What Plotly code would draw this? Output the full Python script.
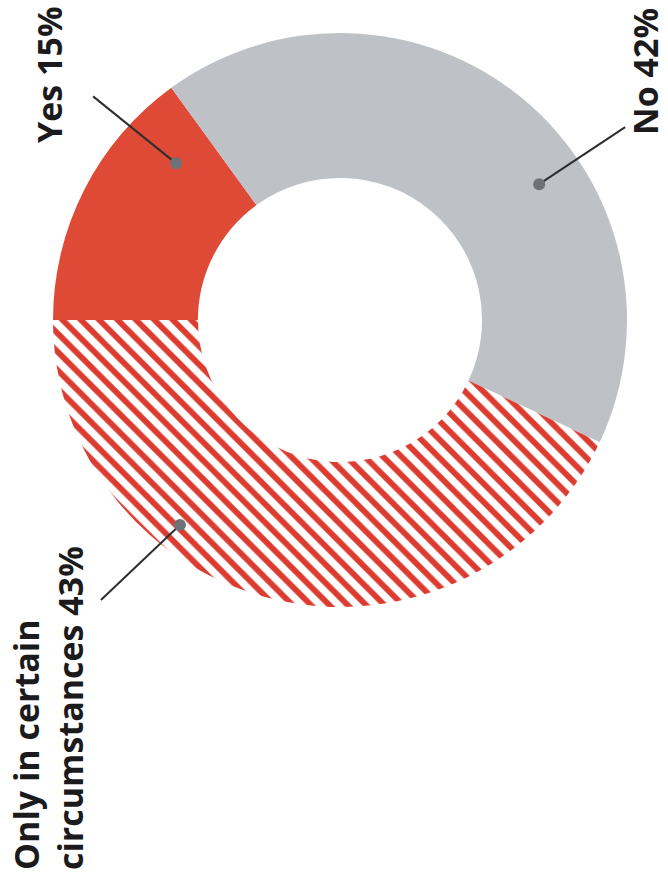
import math
import plotly.graph_objects as go

# Survey answers and their shares (%)
answers = ["Yes", "No", "Only in certain<br>circumstances"]
shares = [15, 42, 43]

# Slice styling
slice_colors = ["#df4a37", "#bec1c6", "#ffffff"]
slice_patterns = ["", "", "\\"]
hatch_color = "#dc3b30"

# Canvas and pie geometry (pixels)
W, H = 668, 890
CX, CY, R = 340, 320, 287
HOLE = 0.495

# Callouts: dot placed by clock angle (deg, clockwise from 12) and radius fraction,
# leader line end as a pixel offset from the dot, label box centre in pixels
callout_dot = [(313.7, 0.79), (55.7, 0.84), (218.0, 0.906)]
callout_end = [(-83, -67), (86, -57), (-79, 75)]
callout_label = [(49, 75), (645, 72), (48, 708)]


def px(x, y):
    """Pixel position -> paper coordinates."""
    return x / W, 1 - y / H


fig = go.Figure()

fig.add_trace(go.Pie(
    labels=answers,
    values=shares,
    sort=False,
    direction="clockwise",
    rotation=-90,
    hole=HOLE,
    textinfo="none",
    hoverinfo="label+percent",
    domain=dict(x=[(CX - R) / W, (CX + R) / W],
                y=[1 - (CY + R) / H, 1 - (CY - R) / H]),
    marker=dict(
        colors=slice_colors,
        line=dict(width=0),
        pattern=dict(shape=slice_patterns, fgcolor=hatch_color, fgopacity=1,
                     size=13, solidity=0.45, fillmode="overlay"),
    ),
))

shapes = []
annotations = []
for name, share, (ang, rf), (ex, ey), (lx, ly) in zip(
        answers, shares, callout_dot, callout_end, callout_label):
    a = math.radians(ang)
    dx = CX + rf * R * math.sin(a)
    dy = CY - rf * R * math.cos(a)
    x0, y0 = px(dx, dy)
    x1, y1 = px(dx + ex, dy + ey)
    shapes.append(dict(type="line", xref="paper", yref="paper",
                       x0=x0, y0=y0, x1=x1, y1=y1, layer="above",
                       line=dict(color="#2e2e30", width=2)))
    shapes.append(dict(type="circle", xref="paper", yref="paper",
                       xsizemode="pixel", ysizemode="pixel",
                       xanchor=x0, yanchor=y0, x0=-6, x1=6, y0=-6, y1=6,
                       layer="above", fillcolor="#6e7177",
                       line=dict(width=0)))
    tx, ty = px(lx, ly)
    annotations.append(dict(
        text=f"{name} {share}%", x=tx, y=ty, xref="paper", yref="paper",
        xanchor="center", yanchor="middle", align="left", textangle=-90,
        showarrow=False, borderpad=0,
        font=dict(family="Open Sans", size=34, color="#1b1b1d", weight="bold"),
    ))

fig.update_layout(
    width=W, height=H,
    margin=dict(l=0, r=0, t=0, b=0),
    paper_bgcolor="white", plot_bgcolor="white",
    showlegend=False,
    shapes=shapes,
    annotations=annotations,
)

fig.write_html("out.html")
